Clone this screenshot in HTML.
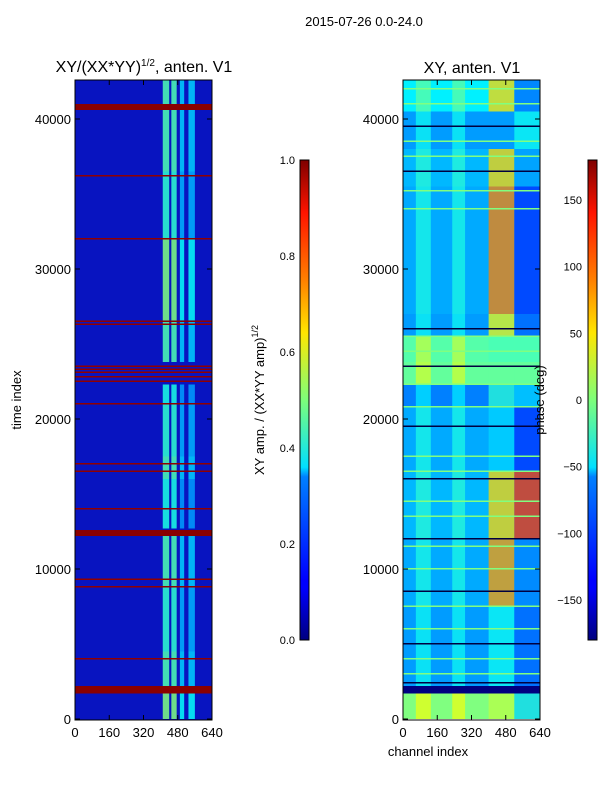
<!DOCTYPE html>
<html><head><meta charset="utf-8"><style>
body{margin:0;background:#fff;font-family:"Liberation Sans",sans-serif;}
svg text{font-family:"Liberation Sans",sans-serif;font-size:13px;fill:#000;}
</style></head><body>
<svg id="fig" width="600" height="800" xmlns="http://www.w3.org/2000/svg">
<defs>
<linearGradient id="jet" x1="0" y1="1" x2="0" y2="0">
<stop offset="0" stop-color="#00007f"/><stop offset="0.11" stop-color="#0000ff"/><stop offset="0.125" stop-color="#0000ff"/>
<stop offset="0.34" stop-color="#0080ff"/><stop offset="0.36" stop-color="#00e0ff"/><stop offset="0.5" stop-color="#7dff7a"/>
<stop offset="0.64" stop-color="#ffe600"/><stop offset="0.75" stop-color="#ff8000"/><stop offset="0.89" stop-color="#ff1400"/><stop offset="1" stop-color="#7f0000"/>
</linearGradient>
</defs>
<text x="364" y="26" text-anchor="middle">2015-07-26 0.0-24.0</text>
<text x="144" y="72" text-anchor="middle" style="font-size:16px">XY/(XX*YY)<tspan dy="-6" style="font-size:10px">1/2</tspan><tspan dy="6">, anten. V1</tspan></text>
<text x="472" y="73" text-anchor="middle" style="font-size:16px">XY, anten. V1</text>
<g id="left"></g>
<g id="right"></g>
<rect x="75" y="80" width="137" height="640" fill="none" stroke="#000"/>
<rect x="403" y="80" width="137" height="640" fill="none" stroke="#000"/>
<g id="axes"></g>
<rect x="300" y="160" width="9" height="480" fill="url(#jet)" stroke="#000"/>
<rect x="588" y="160" width="9" height="480" fill="url(#jet)" stroke="#000"/>
<text transform="translate(21,400) rotate(-90)" text-anchor="middle">time index</text>
<text x="428" y="756" text-anchor="middle">channel index</text>
<text transform="translate(264,400) rotate(-90)" text-anchor="middle">XY amp. / (XX*YY amp)<tspan dy="-6" style="font-size:9px">1/2</tspan></text>
<text transform="translate(544,400) rotate(-90)" text-anchor="middle">phase (deg)</text>
</svg>
<script>
// amplitude bands (time ranges) and values of bright channel columns
const ampStart=[0,2200,4500,8800,12700,16000,17500,21000,23800,26600,32000,36500,41000];
const ampEnd=[1700,4500,8800,12200,16000,17500,21000,22300,26600,32000,36500,40600,42600];
const ampBright=[0.5,0.45,0.42,0.45,0.4,0.45,0.42,0.4,0.45,0.5,0.42,0.45,0.45];
const redBandStart=[1700,12200,40600];
const redBandEnd=[2200,12600,41000];
const redLines=[4000,8800,9300,14000,16500,17000,21000,22500,22800,23100,23300,23500,26300,26500,32000,36200];
// phase bands
const phStart=[0,1700,2200,7500,12000,16500,20800,22300,23800,25500,27000,35500,38000,40500];
const phEnd=[1700,2200,7500,12000,16500,20800,22300,23800,25500,27000,35500,38000,40500,42600];
const phBase=[0,-180,-80,-75,-70,-75,-90,-10,-15,-80,-75,-70,-80,-50];
const phRight=[20,-180,-40,80,60,-60,-30,-10,-20,40,90,60,-80,60];
const phRight2=[-60,-180,-100,-90,120,-120,-60,-10,-20,-100,-120,-80,-40,-100];
const phLines=[2400,3000,4000,5000,6000,7500,8500,10000,11500,12000,13500,14500,16000,16500,17500,19500,20800,22300,23500,24500,25500,26000,34000,35200,36500,37500,38500,39500,41000,42000];
const xTicks=[0,160,320,480,640], yTicks=[0,10000,20000,30000,40000];
const ampTicks=[0.0,0.2,0.4,0.6,0.8,1.0], phTicks=[-150,-100,-50,0,50,100,150];
const brightCh=[[410,440],[450,475],[490,510],[530,560]];
const stripeCh=[[60,130],[230,290]];

const NS="http://www.w3.org/2000/svg";
const yS=t=>719-t*0.015;
const xL=c=>75+c*137/640, xR=c=>403+c*137/640;
function jet(v){v=Math.max(0,Math.min(1,v));
 const r=Math.max(0,Math.min(1,1.5-Math.abs(4*v-3))),g=Math.max(0,Math.min(1,1.5-Math.abs(4*v-2))),b=Math.max(0,Math.min(1,1.5-Math.abs(4*v-1)));
 return `rgb(${Math.round(r*255)},${Math.round(g*255)},${Math.round(b*255)})`;}
function rect(p,x,y,w,h,f){const r=document.createElementNS(NS,'rect');r.setAttribute('x',x);r.setAttribute('y',y);r.setAttribute('width',w);r.setAttribute('height',h);r.setAttribute('fill',f);p.appendChild(r);return r;}
const L=document.getElementById('left'),R=document.getElementById('right'),A=document.getElementById('axes');
const bg=rect(L,75,80,137,640,'#0814c0');


for(let i=0;i<ampStart.length;i++){
 const y0=yS(ampEnd[i]),h=yS(ampStart[i])-y0;
 brightCh.forEach((c,k)=>{const b=rect(L,xL(c[0]),y0,xL(c[1])-xL(c[0]),h,jet(ampBright[i]-(k>1?0.12:0)));
 
 
 b.setAttribute('opacity','0.85');});
}
for(let i=0;i<redBandStart.length;i++){const y0=yS(redBandEnd[i]);
 const r=rect(L,75,y0,137,yS(redBandStart[i])-y0,'#8a0000');
 
 }
redLines.forEach(t=>{const r=rect(L,75,yS(t)-1,137,1.5,'#900000');
 
 });
for(let i=0;i<phStart.length;i++){
 const y0=yS(phEnd[i]),h=yS(phStart[i])-y0;
 const a=rect(R,403,y0,137,h,jet((phBase[i]+180)/360));
 
 
 if(phBase[i]>-170){stripeCh.forEach(c=>{const s=rect(R,xR(c[0]),y0,xR(c[1])-xR(c[0]),h,jet((phBase[i]+220)/360));
 
 s.setAttribute('opacity','0.7');});}
 const b=rect(R,xR(400),y0,xR(520)-xR(400),h,jet((phRight[i]+180)/360));
 
 
 b.setAttribute('opacity','0.75');
 const c=rect(R,xR(520),y0,xR(640)-xR(520),h,jet((phRight2[i]+180)/360));
 
 
 c.setAttribute('opacity','0.75');
}
phLines.forEach((t,i)=>{const r=rect(R,403,yS(t)-1,137,1.5,i%3==0?'#000040':'#80ff80');
 
 });
function txt(x,y,s,anc){const t=document.createElementNS(NS,'text');t.setAttribute('x',x);t.setAttribute('y',y);t.setAttribute('text-anchor',anc);t.textContent=s;A.appendChild(t);return t;}
function line(x1,y1,x2,y2){const l=document.createElementNS(NS,'line');l.setAttribute('x1',x1);l.setAttribute('y1',y1);l.setAttribute('x2',x2);l.setAttribute('y2',y2);l.setAttribute('stroke','#000');A.appendChild(l);}
xTicks.forEach(c=>{[xL,xR].forEach(f=>{const x=f(c);line(x,720,x,715);line(x,80,x,85);
 const t=txt(x,737,String(c),'middle');
 
 });});
yTicks.forEach(v=>{const y=yS(v);line(75,y,80,y);line(212,y,207,y);line(403,y,408,y);line(540,y,535,y);
 const a=txt(71,y+5,String(v),'end');
 
 
 const b=txt(399,y+5,String(v),'end');
 
 });
ampTicks.forEach(v=>{const y=640-v*480;line(300,y,304,y);
 const t=txt(295,y+4,v.toFixed(1),'end');t.style.fontSize='11px';
 
 });
phTicks.forEach(v=>{const y=640-(v+180)/360*480;line(588,y,592,y);
 const t=txt(582,y+4,v<0?'\u2212'+(-v):String(v),'end');t.style.fontSize='11px';
 
 });
</script>
</body></html>
